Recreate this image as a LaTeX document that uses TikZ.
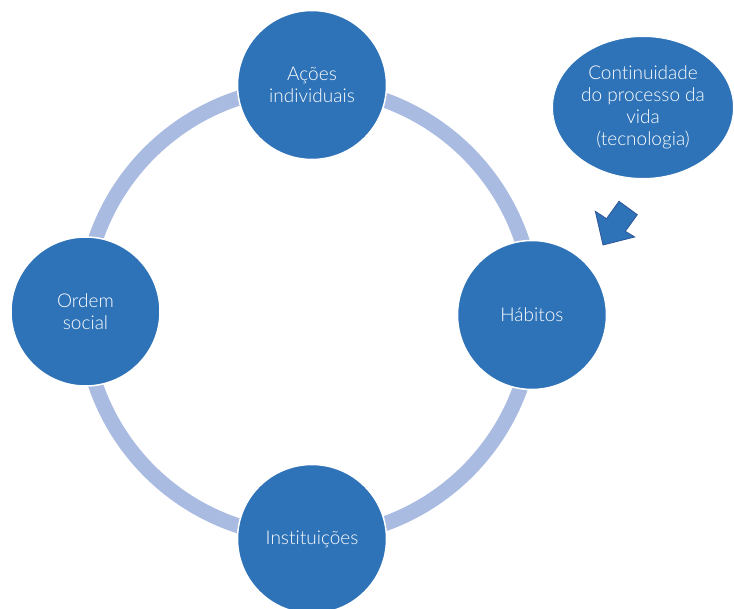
\documentclass[tikz,border=0pt]{standalone}
\usepackage{fontspec}
\setmainfont{Lato}[UprightFont={* Light}, Ligatures={NoCommon}]
\usetikzlibrary{shapes.geometric}

\definecolor{cycleblue}{HTML}{2E72B7}
\definecolor{ringblue}{HTML}{A9BBE0}
\definecolor{arrowedge}{HTML}{2F5597}

\tikzset{
  stage/.style={circle, fill=cycleblue, draw=white, line width=1.5pt,
    minimum size=149pt, inner sep=0pt, text=white, align=center,
    font=\fontsize{19}{22}\selectfont},
  ring/.style={draw=ringblue, line width=15pt},
  bubble/.style={ellipse, fill=cycleblue, draw=white, line width=1pt,
    minimum width=181pt, minimum height=142pt, inner sep=0pt,
    text=white, align=center, font=\fontsize{19}{22}\selectfont},
  blockarrow/.style={fill=cycleblue, draw=arrowedge, line width=0.8pt,
    line join=miter}
}

\begin{document}
\begin{tikzpicture}[x=1pt, y=-1pt]
  \useasboundingbox (0,0) rectangle (734,609);

  % connecting ring behind the four stages
  \coordinate (hub) at (308.5,312);
  \draw[ring] (hub) circle [radius=225];

  % stages of the cycle
  \node[stage] (acoes) at (312,85) {Ações\\individuais};
  \node[stage] (habitos) at (532,315) {Hábitos};
  \node[stage] (instituicoes) at (312,539) {Instituições};
  \node[stage] (ordem) at (85.5,311.5) {Ordem\\social};

  % external influence
  \node[bubble] (vida) at (643,107.5) {Continuidade\\do processo da\\vida\\(tecnologia)};

  % block arrow pointing towards the "Hábitos" stage
  \coordinate (tip) at (603,245);
  \coordinate (barbA) at (595.3,211.3);
  \coordinate (neckA) at (606.5,218.7);
  \coordinate (tailA) at (619,201.3);
  \coordinate (tailB) at (637.3,214.7);
  \coordinate (neckB) at (625.3,231.3);
  \coordinate (barbB) at (634.7,237);
  \draw[blockarrow] (tip) -- (barbA) -- (neckA) -- (tailA) -- (tailB)
    -- (neckB) -- (barbB) -- cycle;
\end{tikzpicture}
\end{document}
